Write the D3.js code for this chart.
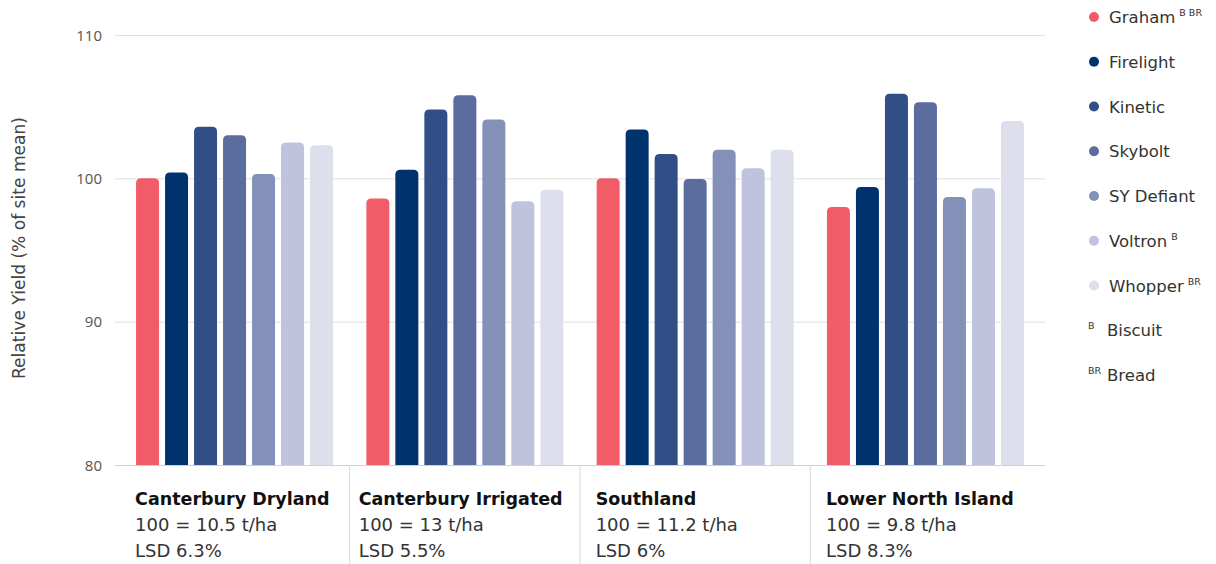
<!DOCTYPE html>
<html><head><meta charset="utf-8">
<script src="https://cdn.jsdelivr.net/npm/d3@7"></script>
<style>
html,body{margin:0;padding:0;background:#fff;}
svg{display:block;font-family:"DejaVu Sans",sans-serif;}
</style></head>
<body>
<svg id="c" width="1216" height="564"></svg>
<script>
const sites = ["Canterbury Dryland","Canterbury Irrigated","Southland","Lower North Island"];
const siteMeans = ["100 = 10.5 t/ha","100 = 13 t/ha","100 = 11.2 t/ha","100 = 9.8 t/ha"];
const siteLSD = ["LSD 6.3%","LSD 5.5%","LSD 6%","LSD 8.3%"];
const varieties = ["Graham","Firelight","Kinetic","Skybolt","SY Defiant","Voltron","Whopper"];
const varietySup = ["B BR","","","","","B","BR"];
const colors = ["#F25C68","#00336E","#314E86","#5B6C9E","#8391B8","#BFC3DD","#DDDFEC"];
const graham    = [100.0, 98.6, 100.0, 98.0];
const firelight = [100.4, 100.6, 103.4, 99.4];
const kinetic   = [103.6, 104.8, 101.7, 105.9];
const skybolt   = [103.0, 105.8, 99.95, 105.3];
const syDefiant = [100.3, 104.1, 102.0, 98.7];
const voltron   = [102.5, 98.4, 100.7, 99.3];
const whopper   = [102.3, 99.2, 102.0, 104.0];
const yTicks = [80, 90, 100, 110];
const endUseKeys = [["B","Biscuit"],["BR","Bread"]];

const series = [graham, firelight, kinetic, skybolt, syDefiant, voltron, whopper];
const svg = d3.select("#c");

const y = d3.scaleLinear().domain([80,110]).range([465,35]);
const x0 = d3.scaleBand().domain(sites).range([119.4,1040.6]).paddingInner(0).paddingOuter(0);
const x1 = d3.scaleBand().domain(varieties).range([16.65,213.65]).paddingInner(6/29).paddingOuter(0);

// gridlines
const yAxis = d3.axisLeft(y).tickValues(yTicks).tickSize(0).tickPadding(0).tickFormat(d3.format("d"));
const ga = svg.append("g").attr("transform","translate(115,0)").call(yAxis);
ga.select(".domain").remove();
ga.selectAll(".tick line").attr("x2",930).attr("stroke",d=>d===80?"#d0d0d0":"#e0e0e0").attr("stroke-width",1);
ga.selectAll(".tick text").attr("x",-13).attr("dy","0.35em").attr("fill","#555").style("font-size","15px").style("font-family","'Open Sans',sans-serif");

// separators
svg.append("g").selectAll("line").data(sites.slice(1)).join("line")
  .attr("x1",d=>x0(d)).attr("x2",d=>x0(d)).attr("y1",465).attr("y2",564)
  .attr("stroke","#d8d8d8").attr("stroke-width",1);

// bars with rounded tops
function barPath(x,yTop,w,yBot,r){
  r=Math.min(r,(yBot-yTop));
  return `M${x},${yBot}V${yTop+r}Q${x},${yTop} ${x+r},${yTop}H${x+w-r}Q${x+w},${yTop} ${x+w},${yTop+r}V${yBot}Z`;
}
const g = svg.append("g");
sites.forEach((s,si)=>{
  varieties.forEach((v,vi)=>{
    const val = series[vi][si];
    const bx = x0(s)+x1(v);
    g.append("path").attr("d",barPath(bx,y(val),x1.bandwidth(),y(80),5)).attr("fill",colors[vi]);
  });
});

// site labels
const lab = svg.append("g");
sites.forEach((s,i)=>{
  let bx = x0(s)+x1(varieties[0]) - 1;
  if(i===1) bx = x0(s)+9;
  lab.append("text").attr("x",bx).attr("y",505).text(s).style("font-weight","700").style("font-size","17.5px").attr("fill","#111");
  lab.append("text").attr("x",bx).attr("y",531).text(siteMeans[i]).style("font-size","18px").attr("fill","#333");
  lab.append("text").attr("x",bx).attr("y",557).text(siteLSD[i]).style("font-size","18px").attr("fill","#333");
});

// y title
const title = svg.append("text").attr("transform","translate(25,248) rotate(-90)").attr("text-anchor","middle")
  .attr("fill","#444").style("font-size","15px").text("Relative Yield (% of site mean)");
const len = title.node().getComputedTextLength();
title.style("font-size", (15*262/len).toFixed(2)+"px");

// legend
const ly = d3.scalePoint().domain(d3.range(9)).range([17,375]);
const lg = svg.append("g");
varieties.forEach((v,i)=>{
  lg.append("circle").attr("cx",1094).attr("cy",ly(i)).attr("r",5).attr("fill",colors[i]);
  const t = lg.append("text").attr("x",1109).attr("y",ly(i)+6).attr("fill","#333").style("font-size","16.5px");
  t.append("tspan").text(v);
  if(varietySup[i]) t.append("tspan").attr("dx",4).attr("dy",-7).style("font-size","9.5px").text(varietySup[i]);
});
endUseKeys.forEach((k,j)=>{
  const i = 7+j;
  lg.append("text").attr("x",1088).attr("y",ly(i)-1).attr("fill","#333").style("font-size","9.5px").text(k[0]);
  lg.append("text").attr("x",1107).attr("y",ly(i)+6).attr("fill","#333").style("font-size","16.5px").text(k[1]);
});
</script>
</body></html>
